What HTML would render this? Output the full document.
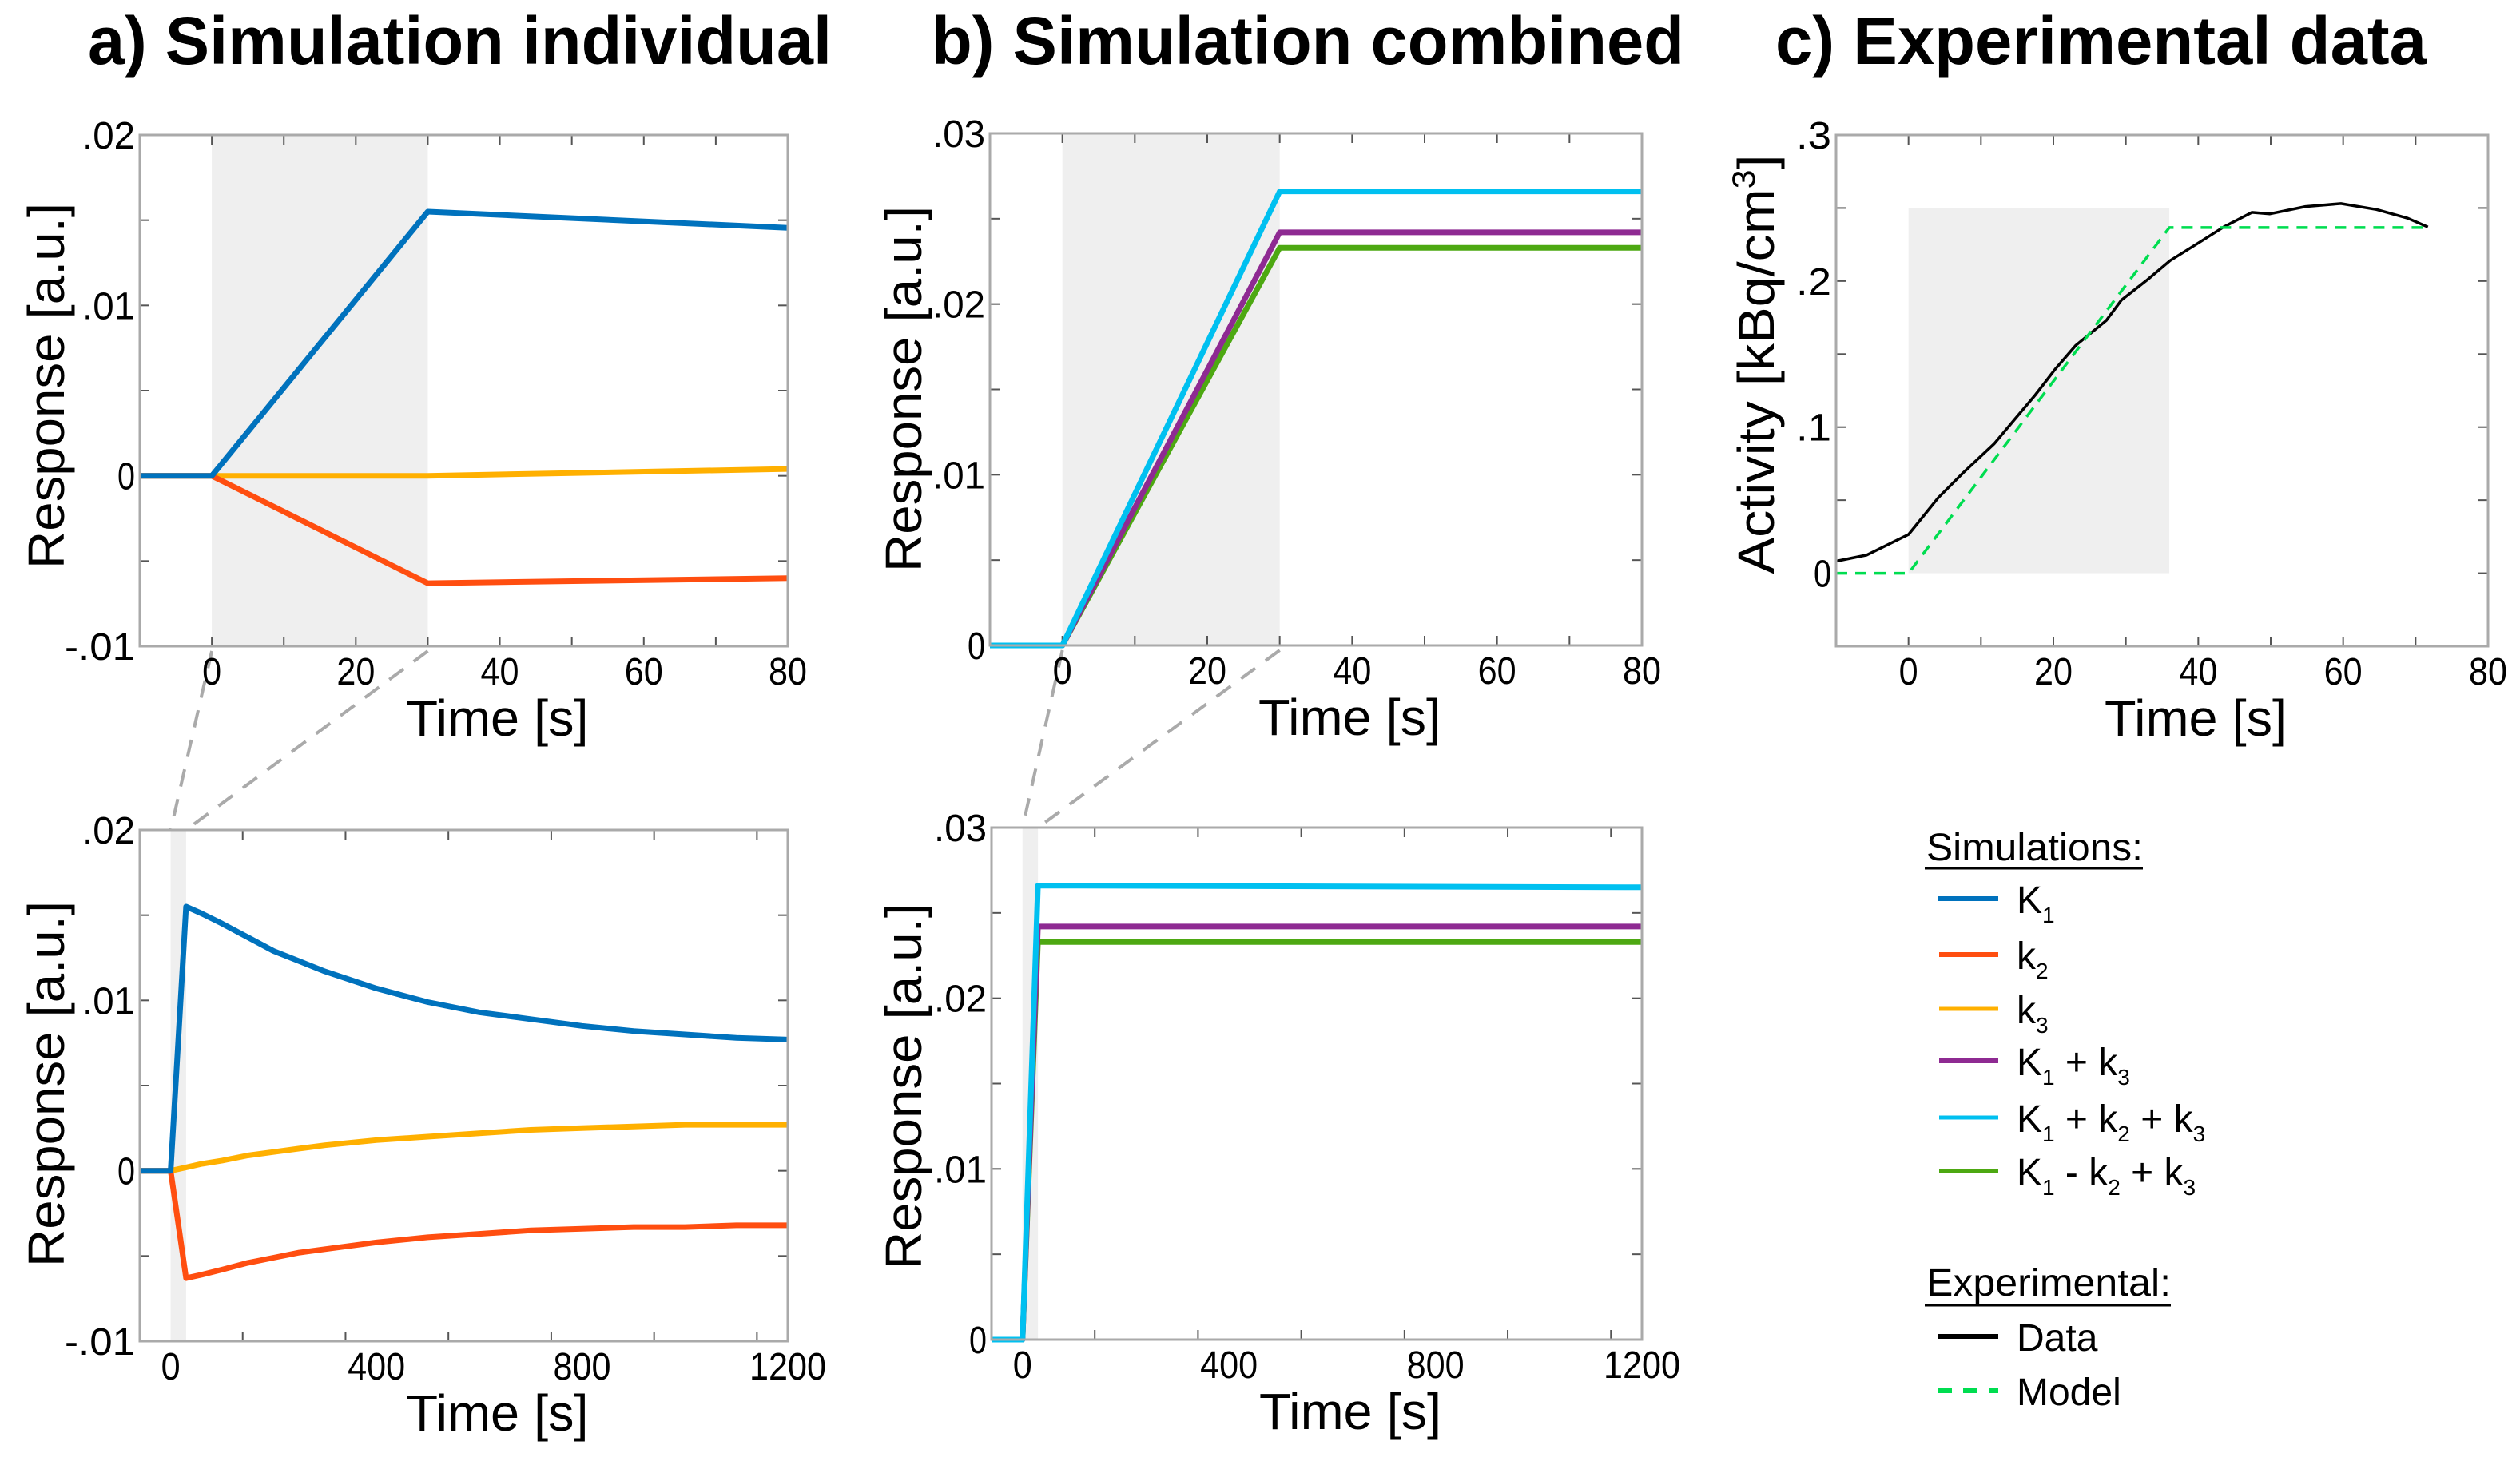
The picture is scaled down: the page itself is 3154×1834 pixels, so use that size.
<!DOCTYPE html>
<html><head><meta charset="utf-8"><style>
html,body{margin:0;padding:0;background:#fff;}
svg{display:block;font-family:"Liberation Sans",Arial,sans-serif;}
</style></head><body>
<svg id="fig" width="3154" height="1834" viewBox="0 0 3154 1834" xmlns="http://www.w3.org/2000/svg">
<rect width="3154" height="1834" fill="#fff"/>
<text x="110" y="80" font-size="84" font-weight="bold" textLength="931" lengthAdjust="spacingAndGlyphs">a) Simulation individual</text>
<text x="1166" y="80" font-size="84" font-weight="bold" textLength="942" lengthAdjust="spacingAndGlyphs">b) Simulation combined</text>
<text x="2222" y="80" font-size="84" font-weight="bold" textLength="815" lengthAdjust="spacingAndGlyphs">c) Experimental data</text>
<g id="layer"></g>
<g id="legend">
<text x="2411" y="1077" font-size="48" textLength="271" lengthAdjust="spacingAndGlyphs">Simulations:</text>
<line x1="2409" y1="1087" x2="2682" y2="1087" stroke="#000" stroke-width="3"/>
<line x1="2425" y1="1125" x2="2501" y2="1125" stroke="#0072BD" stroke-width="6"/>
<text x="2524" y="1143" font-size="48">K<tspan font-size="28" dy="12">1</tspan></text>
<line x1="2427" y1="1195" x2="2501" y2="1195" stroke="#FF4E10" stroke-width="6"/>
<text x="2524" y="1213" font-size="48">k<tspan font-size="28" dy="12">2</tspan></text>
<line x1="2427" y1="1263" x2="2501" y2="1263" stroke="#FFB000" stroke-width="5"/>
<text x="2524" y="1281" font-size="48">k<tspan font-size="28" dy="12">3</tspan></text>
<line x1="2427" y1="1328" x2="2501" y2="1328" stroke="#8E2A92" stroke-width="6"/>
<text x="2524" y="1346" font-size="48">K<tspan font-size="28" dy="12">1</tspan><tspan dy="-12"> + k</tspan><tspan font-size="28" dy="12">3</tspan></text>
<line x1="2427" y1="1399" x2="2501" y2="1399" stroke="#00C0F0" stroke-width="5"/>
<text x="2524" y="1417" font-size="48">K<tspan font-size="28" dy="12">1</tspan><tspan dy="-12"> + k</tspan><tspan font-size="28" dy="12">2</tspan><tspan dy="-12"> + k</tspan><tspan font-size="28" dy="12">3</tspan></text>
<line x1="2427" y1="1466" x2="2501" y2="1466" stroke="#4DA812" stroke-width="6"/>
<text x="2524" y="1484" font-size="48">K<tspan font-size="28" dy="12">1</tspan><tspan dy="-12"> - k</tspan><tspan font-size="28" dy="12">2</tspan><tspan dy="-12"> + k</tspan><tspan font-size="28" dy="12">3</tspan></text>
<text x="2411" y="1622" font-size="48" textLength="306" lengthAdjust="spacingAndGlyphs">Experimental:</text>
<line x1="2409" y1="1634" x2="2717" y2="1634" stroke="#000" stroke-width="3"/>
<line x1="2425" y1="1673" x2="2501" y2="1673" stroke="#000" stroke-width="6"/>
<text x="2524" y="1691" font-size="48">Data</text>
<line x1="2425" y1="1741" x2="2501" y2="1741" stroke="#00DD50" stroke-width="6" stroke-dasharray="18 14"/>
<text x="2524" y="1759" font-size="48">Model</text>
</g>
</svg>
<script>
// ---- data ----
const aTopT = [-10, 0, 30, 80];
const aTopK1 = [0, 0, 0.0155, 0.01455];
const aTopK2 = [0, 0, -0.0063, -0.0060];
const aTopK3 = [0, 0, 0.0000, 0.0004];

const aBotT = [-60, 0, 30, 60, 100, 150, 200, 250, 300, 400, 500, 600, 700, 800, 900, 1000, 1100, 1200];
const aBotK1 = [0, 0, 0.0155, 0.0151, 0.0145, 0.0137, 0.0129, 0.0123, 0.0117, 0.0107, 0.0099, 0.0093, 0.0089, 0.0085, 0.0082, 0.0080, 0.0078, 0.0077];
const aBotK2 = [0, 0, -0.0063, -0.0061, -0.0058, -0.0054, -0.0051, -0.0048, -0.0046, -0.0042, -0.0039, -0.0037, -0.0035, -0.0034, -0.0033, -0.0033, -0.0032, -0.0032];
const aBotK3 = [0, 0, 0.0002, 0.0004, 0.0006, 0.0009, 0.0011, 0.0013, 0.0015, 0.0018, 0.0020, 0.0022, 0.0024, 0.0025, 0.0026, 0.0027, 0.0027, 0.0027];

const bTopT = [-10, 0, 30, 80];
const bTopK1K3 = [0, 0, 0.0242, 0.0242];
const bTopK1K2K3 = [0, 0, 0.0266, 0.0266];
const bTopK1mK2K3 = [0, 0, 0.0233, 0.0233];

const bBotT = [-60, 0, 30, 1200];
const bBotK1K3 = [0, 0, 0.0242, 0.0242];
const bBotK1K2K3 = [0, 0, 0.0266, 0.0265];
const bBotK1mK2K3 = [0, 0, 0.0233, 0.0233];

const cDataT = [-9.9, -5.8, 0, 4.1, 7.6, 11.8, 14.6, 17.5, 20.3, 23.1, 27.3, 29.4, 33, 36.1, 40, 43.5, 47.4, 49.9, 54.8, 59.7, 64.6, 68.9, 71.7];
const cDataV = [0.0083, 0.0124, 0.0265, 0.0516, 0.069, 0.0885, 0.105, 0.122, 0.140, 0.156, 0.173, 0.187, 0.201, 0.214, 0.226, 0.237, 0.247, 0.246, 0.251, 0.253, 0.249, 0.243, 0.237];
const cModelT = [-10, 0, 36, 72];
const cModelV = [0, 0, 0.2366, 0.2366];

const yTicksA = [-0.01, 0, 0.01, 0.02];
const yTickLabelsA = ['-.01', '0', '.01', '.02'];
const yTicksB = [0, 0.01, 0.02, 0.03];
const yTickLabelsB = ['0', '.01', '.02', '.03'];
const yTicksC = [0, 0.1, 0.2, 0.3];
const yTickLabelsC = ['0', '.1', '.2', '.3'];
const xTicksShort = [0, 20, 40, 60, 80];
const xTicksLong = [0, 400, 800, 1200];

const NS = 'http://www.w3.org/2000/svg';
const layer = document.getElementById('layer');
function mk(tag, attrs, parent) {
  const e = document.createElementNS(NS, tag);
  for (const k in attrs) e.setAttribute(k, attrs[k]);
  (parent || layer).appendChild(e);
  return e;
}

function panel(o) {
  const g = mk('g', {});
  
  
  const sx = v => o.L + (v - o.x0) / (o.x1 - o.x0) * (o.R - o.L);
  const sy = v => o.B - (v - o.y0) / (o.y1 - o.y0) * (o.B - o.T);
  o.sx = sx; o.sy = sy;
  const sh = mk('rect', {x: sx(o.shade[0]), y: sy(o.shade[3]), width: sx(o.shade[1]) - sx(o.shade[0]), height: sy(o.shade[2]) - sy(o.shade[3]), fill: '#efefef'}, g);
  
  
  for (let v = o.x0 + o.xminor; v < o.x1 - 1e-9; v += o.xminor) {
    mk('line', {x1: sx(v), y1: o.B, x2: sx(v), y2: o.B - 12, stroke: '#555', 'stroke-width': 2}, g);
    mk('line', {x1: sx(v), y1: o.T, x2: sx(v), y2: o.T + 12, stroke: '#555', 'stroke-width': 2}, g);
  }
  for (let v = o.y0 + o.yminor; v < o.y1 - 1e-9; v += o.yminor) {
    mk('line', {x1: o.L, y1: sy(v), x2: o.L + 12, y2: sy(v), stroke: '#555', 'stroke-width': 2}, g);
    mk('line', {x1: o.R, y1: sy(v), x2: o.R - 12, y2: sy(v), stroke: '#555', 'stroke-width': 2}, g);
  }
  o.series.forEach(s => {
    const pts = s.t.map((t, i) => sx(t).toFixed(1) + ',' + sy(s.v[i]).toFixed(1)).join(' ');
    const p = mk('polyline', {points: pts, fill: 'none', stroke: s.color, 'stroke-width': s.w || 7, 'stroke-linejoin': 'round', 'stroke-dasharray': s.dash || 'none'}, g);
    
    
  });
  const fr = mk('rect', {x: o.L, y: o.T, width: o.R - o.L, height: o.B - o.T, fill: 'none', stroke: '#aaa', 'stroke-width': 3}, g);
  
  
  o.yt.forEach((v, i) => {
    const t = mk('text', {x: o.L - 6, y: sy(v) + 17, 'font-size': 48, 'text-anchor': 'end', textLength: o.ytl[i].length * 22, lengthAdjust: 'spacingAndGlyphs'}, g);
    t.textContent = o.ytl[i];
    
    
  });
  o.xt.forEach(v => {
    const s = String(v);
    const t = mk('text', {x: sx(v), y: o.B + 48, 'font-size': 48, 'text-anchor': 'middle', textLength: s.length * 24, lengthAdjust: 'spacingAndGlyphs'}, g);
    t.textContent = s;
    
    
  });
  const xl = mk('text', {x: (o.L + o.R) / 2 + 42, y: o.B + 112, 'font-size': 64, 'text-anchor': 'middle', textLength: 228, lengthAdjust: 'spacingAndGlyphs'}, g);
  xl.textContent = 'Time [s]';
  
  
  const yl = mk('text', {x: 0, y: 0, 'font-size': 64, 'text-anchor': 'middle', transform: 'translate(' + (o.ylx + 22) + ',' + o.yly + ') rotate(-90)', textLength: o.ylen, lengthAdjust: 'spacingAndGlyphs'}, g);
  if (o.ylabelHTML) { yl.innerHTML = o.ylabelHTML; } else { yl.textContent = 'Response [a.u.]'; }
  
  
  return o;
}

const connectors = mk('g', {});



const C = {K1: '#0072BD', K2: '#FF4E10', K3: '#FFB000', P: '#8E2A92', Cy: '#00C0F0', G: '#4DA812'};

const pAT = panel({name: 'panel-a-top', L: 175, R: 986, T: 169, B: 809, x0: -10, x1: 80, y0: -0.01, y1: 0.02, xminor: 10, yminor: 0.005, shade: [0, 30, -0.01, 0.02],
  xt: xTicksShort, yt: yTicksA, ytl: yTickLabelsA, ylx: 58, yly: 483, ylen: 458,
  series: [{t: aTopT, v: aTopK3, color: C.K3, name: 'line-k3'}, {t: aTopT, v: aTopK2, color: C.K2, name: 'line-k2'}, {t: aTopT, v: aTopK1, color: C.K1, name: 'line-k1'}]});
const pAB = panel({name: 'panel-a-bottom', L: 175, R: 986, T: 1039, B: 1679, x0: -60, x1: 1200, y0: -0.01, y1: 0.02, xminor: 200, yminor: 0.005, shade: [0, 30, -0.01, 0.02],
  xt: xTicksLong, yt: yTicksA, ytl: yTickLabelsA, ylx: 58, yly: 1357, ylen: 458,
  series: [{t: aBotT, v: aBotK3, color: C.K3, name: 'line-k3'}, {t: aBotT, v: aBotK2, color: C.K2, name: 'line-k2'}, {t: aBotT, v: aBotK1, color: C.K1, name: 'line-k1'}]});
const pBT = panel({name: 'panel-b-top', L: 1239, R: 2055, T: 167, B: 808, x0: -10, x1: 80, y0: 0, y1: 0.03, xminor: 10, yminor: 0.005, shade: [0, 30, 0, 0.03],
  xt: xTicksShort, yt: yTicksB, ytl: yTickLabelsB, ylx: 1131, yly: 487, ylen: 458,
  series: [{t: bTopT, v: bTopK1mK2K3, color: C.G, name: 'line-k1-minus-k2-plus-k3'}, {t: bTopT, v: bTopK1K3, color: C.P, name: 'line-k1-plus-k3'}, {t: bTopT, v: bTopK1K2K3, color: C.Cy, name: 'line-k1-plus-k2-plus-k3'}]});
const pBB = panel({name: 'panel-b-bottom', L: 1241, R: 2055, T: 1036, B: 1677, x0: -60, x1: 1200, y0: 0, y1: 0.03, xminor: 200, yminor: 0.005, shade: [0, 30, 0, 0.03],
  xt: xTicksLong, yt: yTicksB, ytl: yTickLabelsB, ylx: 1131, yly: 1360, ylen: 458,
  series: [{t: bBotT, v: bBotK1mK2K3, color: C.G, name: 'line-k1-minus-k2-plus-k3'}, {t: bBotT, v: bBotK1K3, color: C.P, name: 'line-k1-plus-k3'}, {t: bBotT, v: bBotK1K2K3, color: C.Cy, name: 'line-k1-plus-k2-plus-k3'}]});
const pC = panel({name: 'panel-c', L: 2298, R: 3114, T: 169, B: 809, x0: -10, x1: 80, y0: -0.05, y1: 0.3, xminor: 10, yminor: 0.05, shade: [0, 36, 0, 0.25],
  xt: xTicksShort, yt: yTicksC, ytl: yTickLabelsC, ylx: 2198, yly: 456, ylen: 525,
  ylabelHTML: 'Activity [kBq/cm<tspan font-size="40" dy="-24">3</tspan><tspan dy="24">]</tspan>',
  series: [{t: cDataT, v: cDataV, color: '#000', w: 3.5, name: 'line-data'}, {t: cModelT, v: cModelV, color: '#00DD50', w: 3.5, dash: '14 10', name: 'line-model'}]});

[[pAT, pAB], [pBT, pBB]].forEach(pair => {
  const [top, bot] = pair;
  [0, 30].forEach(t => {
    const l = mk('line', {x1: top.sx(t), y1: top.B + 6, x2: bot.sx(t), y2: bot.T, stroke: '#aaa', 'stroke-width': 4, 'stroke-dasharray': '22 16'}, connectors);
    
    
  });
});
layer.insertBefore(connectors, layer.firstChild);
</script>
</body></html>
